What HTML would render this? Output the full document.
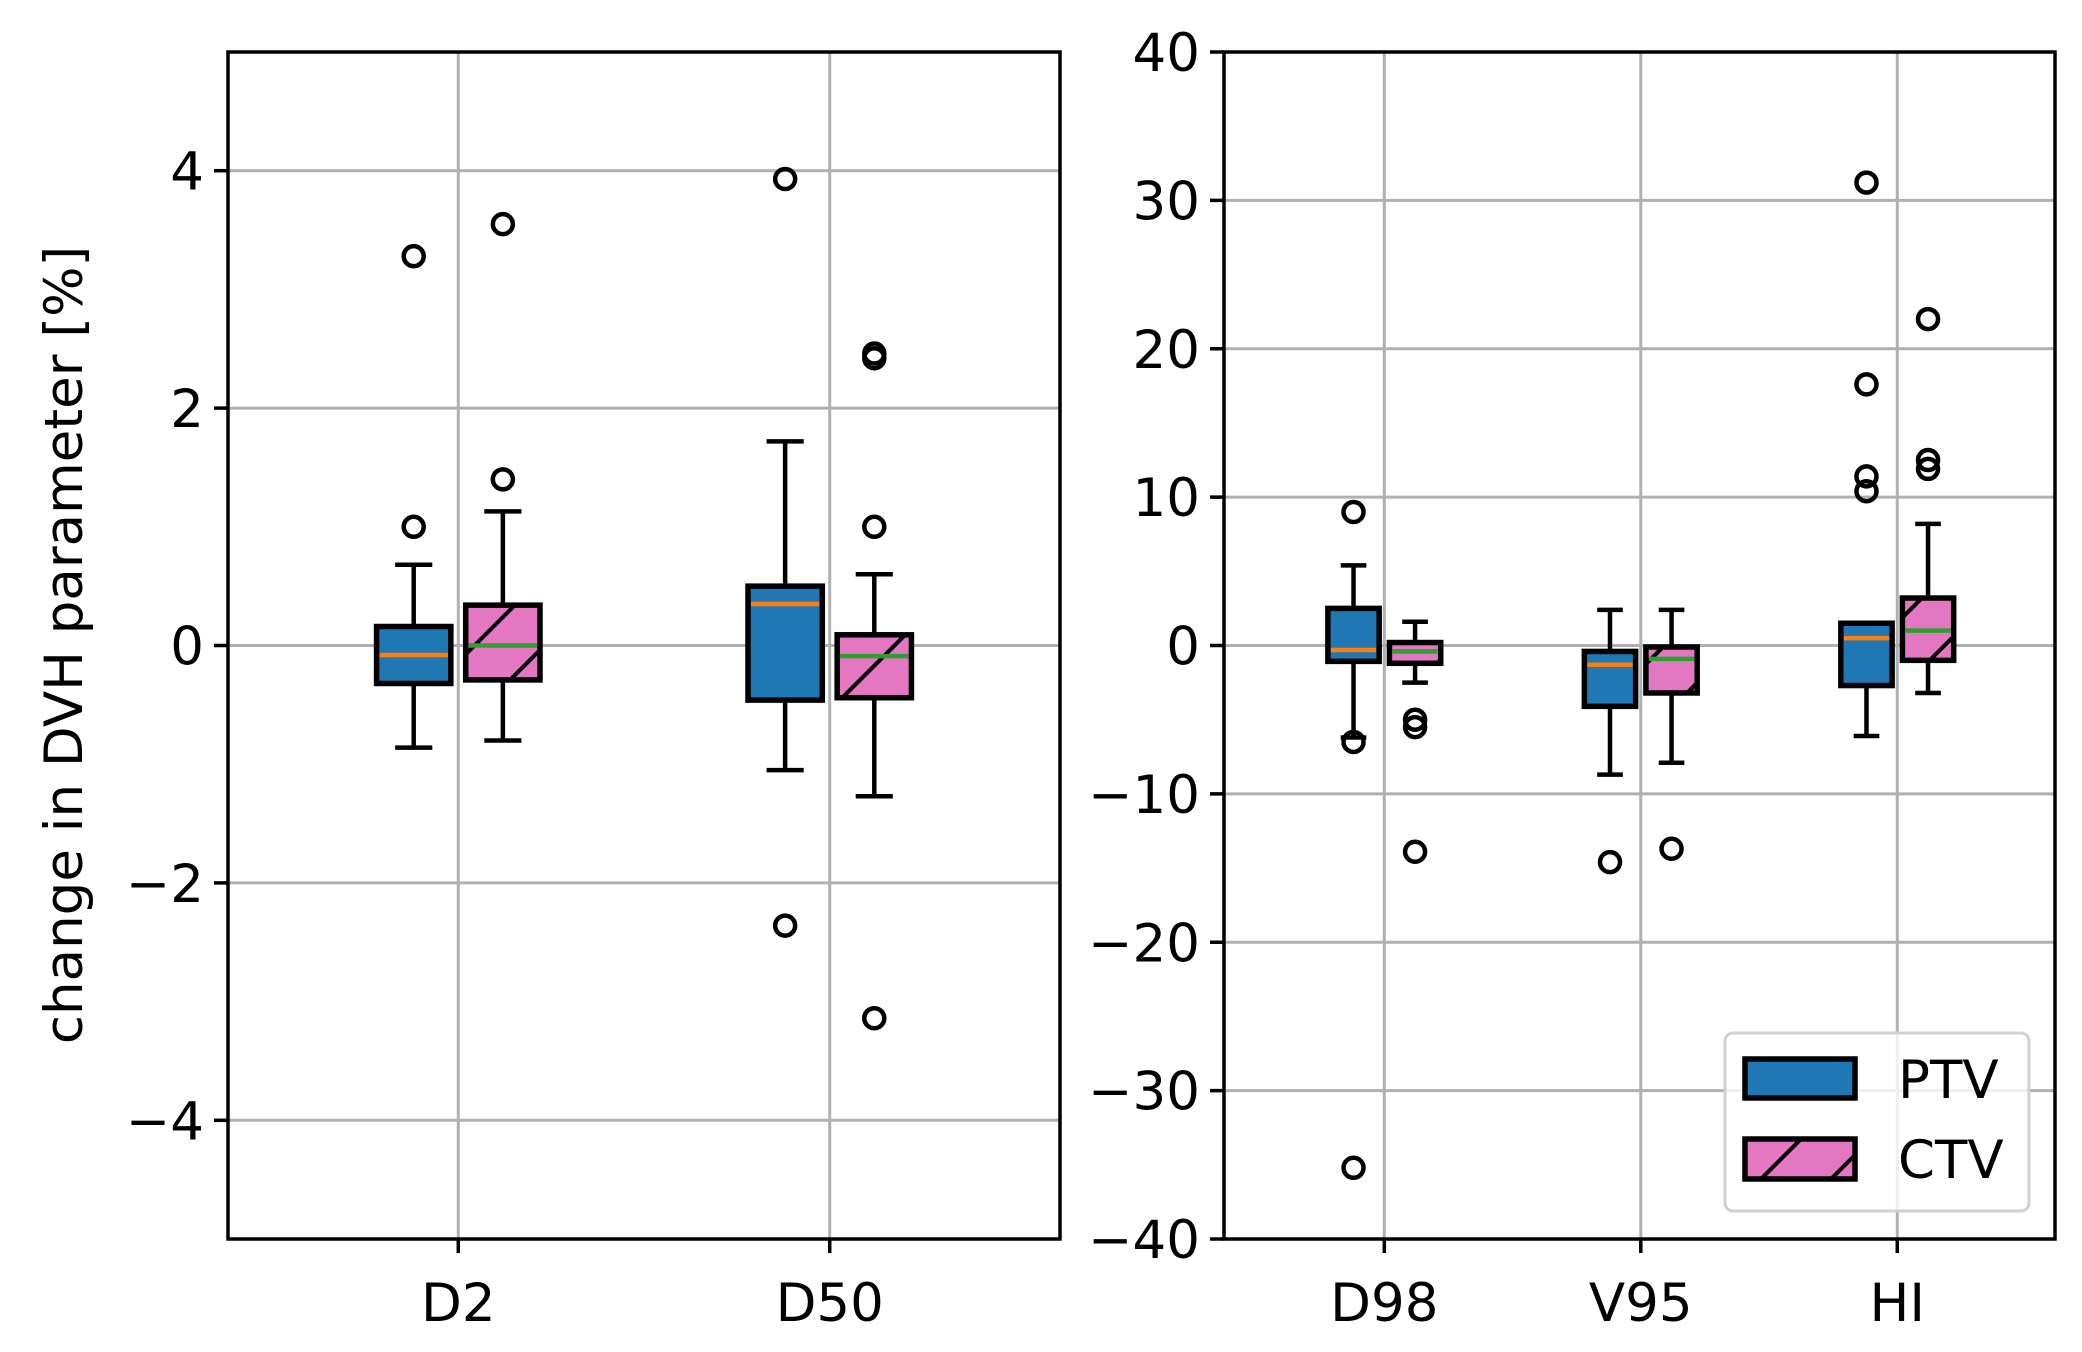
<!DOCTYPE html>
<html><head><meta charset="utf-8"><style>
html,body{margin:0;padding:0;background:#fff;}
svg text{font-family:"DejaVu Sans","Liberation Sans",sans-serif;font-size:53px;fill:#000;}
</style></head><body>
<svg id="chart" width="2082" height="1347" viewBox="0 0 2082 1347" xmlns="http://www.w3.org/2000/svg">
<defs>
<pattern id="hatch" patternUnits="userSpaceOnUse" width="70" height="70">
<rect width="70" height="70" fill="#e377c2"/>
<path d="M-10,80 L80,-10 M-45,45 L45,-45 M25,115 L115,25" stroke="#000" stroke-width="4"/>
</pattern>
</defs>
<g id="root"></g>
</svg>
<script>
const leftCategories = ["D2","D50"];
const rightCategories = ["D98","V95","HI"];
const leftYTicks = [-4,-2,0,2,4];
const rightYTicks = [-40,-30,-20,-10,0,10,20,30,40];
// [whiskerLow, q1, median, q3, whiskerHigh]
const leftPTV = [[-0.86,-0.32,-0.08,0.16,0.68],[-1.05,-0.46,0.35,0.5,1.72]];
const leftCTV = [[-0.80,-0.29,0.0,0.34,1.13],[-1.27,-0.44,-0.09,0.09,0.6]];
const leftPTVOutliers = [[1.0,3.28],[3.93,-2.36]];
const leftCTVOutliers = [[1.4,3.55],[2.42,2.46,1.0,-3.14]];
const rightPTV = [[-6.2,-1.07,-0.3,2.5,5.4],[-8.7,-4.1,-1.3,-0.4,2.4],[-6.1,-2.7,0.5,1.5,1.5]];
const rightCTV = [[-2.5,-1.2,-0.4,0.2,1.6],[-7.9,-3.2,-0.9,-0.1,2.4],[-3.2,-1.0,1.0,3.2,8.2]];
const rightPTVOutliers = [[9.0,-6.5,-35.2],[-14.6],[31.2,17.6,11.4,10.4]];
const rightCTVOutliers = [[-5.0,-5.5,-13.9],[-13.7],[22.0,12.5,11.9]];

const NS="http://www.w3.org/2000/svg";
const root=document.getElementById('root');
function mk(tag,attrs,parent){const e=document.createElementNS(NS,tag);for(const k in attrs)e.setAttribute(k,attrs[k]);(parent||root).appendChild(e);return e;}

function panel(opt){
  const {x0,x1,y0,y1,ymin,ymax,xmin,xmax,cats,ticks,ptv,ctv,po,co,name}=opt;
  const sx=v=>x0+(v-xmin)/(xmax-xmin)*(x1-x0);
  const sy=v=>y1-(v-ymin)/(ymax-ymin)*(y1-y0);
  const g=mk('g',{});
  
  
  ticks.forEach(t=>{
    const l=mk('line',{x1:x0,x2:x1,y1:sy(t),y2:sy(t),stroke:'#b0b0b0','stroke-width':3},g);
    
    
    const tk=mk('line',{x1:x0-14,x2:x0,y1:sy(t),y2:sy(t),stroke:'#000','stroke-width':3.5},g);
    
    
    const tx=mk('text',{x:x0-24,y:sy(t)+19,'text-anchor':'end'},g);
    tx.textContent=(t<0?'\u2212'+Math.abs(t):String(t));
    
    
  });
  cats.forEach((c,i)=>{
    const p=i+1;
    const l=mk('line',{x1:sx(p),x2:sx(p),y1:y0,y2:y1,stroke:'#b0b0b0','stroke-width':3},g);
    
    
    const tk=mk('line',{x1:sx(p),x2:sx(p),y1:y1,y2:y1+14,stroke:'#000','stroke-width':3.5},g);
    
    
    const tx=mk('text',{x:sx(p),y:y1+82,'text-anchor':'middle'},g);
    tx.textContent=c;
    
    
  });
  function box(stats,outs,pos,fill,medColor,label){
    const w=0.2;
    const [wl,q1,md,q3,wh]=stats;
    const bg=mk('g',{},g);
    
    
    const xc=sx(pos), xl=sx(pos-w/2), xr=sx(pos+w/2), cw=(xr-xl)/4;
    mk('line',{x1:xc,x2:xc,y1:sy(q3),y2:sy(wh),stroke:'#000','stroke-width':4.5},bg);
    mk('line',{x1:xc,x2:xc,y1:sy(q1),y2:sy(wl),stroke:'#000','stroke-width':4.5},bg);
    mk('line',{x1:xc-cw,x2:xc+cw,y1:sy(wh),y2:sy(wh),stroke:'#000','stroke-width':4.5},bg);
    mk('line',{x1:xc-cw,x2:xc+cw,y1:sy(wl),y2:sy(wl),stroke:'#000','stroke-width':4.5},bg);
    mk('rect',{x:xl,y:sy(q3),width:xr-xl,height:sy(q1)-sy(q3),fill:fill,stroke:'#000','stroke-width':5.5},bg);
    mk('line',{x1:xl+3,x2:xr-3,y1:sy(md),y2:sy(md),stroke:medColor,'stroke-width':4.5},bg);
    outs.forEach(o=>{
      const c=mk('circle',{cx:xc,cy:sy(o),r:10,fill:'none',stroke:'#000','stroke-width':4.5},bg);
      
      
    });
  }
  cats.forEach((c,i)=>{
    box(ptv[i],po[i],i+1-0.12,'#1f77b4','#ff7f0e','ptv-'+c.toLowerCase());
    box(ctv[i],co[i],i+1+0.12,'url(#hatch)','#2ca02c','ctv-'+c.toLowerCase());
  });
  const fr=mk('rect',{x:x0,y:y0,width:x1-x0,height:y1-y0,fill:'none',stroke:'#000','stroke-width':3.5},g);
  
  
}
panel({x0:228,x1:1060,y0:52,y1:1239,ymin:-5,ymax:5,xmin:0.38,xmax:2.62,cats:leftCategories,ticks:leftYTicks,ptv:leftPTV,ctv:leftCTV,po:leftPTVOutliers,co:leftCTVOutliers,name:'left-panel'});
panel({x0:1224,x1:2055,y0:52,y1:1239,ymin:-40,ymax:40,xmin:0.375,xmax:3.615,cats:rightCategories,ticks:rightYTicks,ptv:rightPTV,ctv:rightCTV,po:rightPTVOutliers,co:rightCTVOutliers,name:'right-panel'});

const yl=mk('text',{x:0,y:0,'text-anchor':'middle','font-size':'55',transform:'translate(82,645) rotate(-90)'});
yl.textContent='change in DVH parameter [%]';



const lg=mk('g',{});


mk('rect',{x:1725,y:1033,width:304,height:178,rx:8,fill:'#fff','fill-opacity':0.8,stroke:'#d0d0d0','stroke-width':3},lg);
const e1=mk('g',{},lg);


mk('rect',{x:1745,y:1059,width:110,height:39,fill:'#1f77b4',stroke:'#000','stroke-width':5.5},e1);
const t1=mk('text',{x:1898,y:1098},e1);t1.textContent='PTV';
const e2=mk('g',{},lg);


mk('rect',{x:1745,y:1139,width:110,height:40,fill:'url(#hatch)',stroke:'#000','stroke-width':5.5},e2);
const t2=mk('text',{x:1898,y:1178},e2);t2.textContent='CTV';
</script>
</body></html>
